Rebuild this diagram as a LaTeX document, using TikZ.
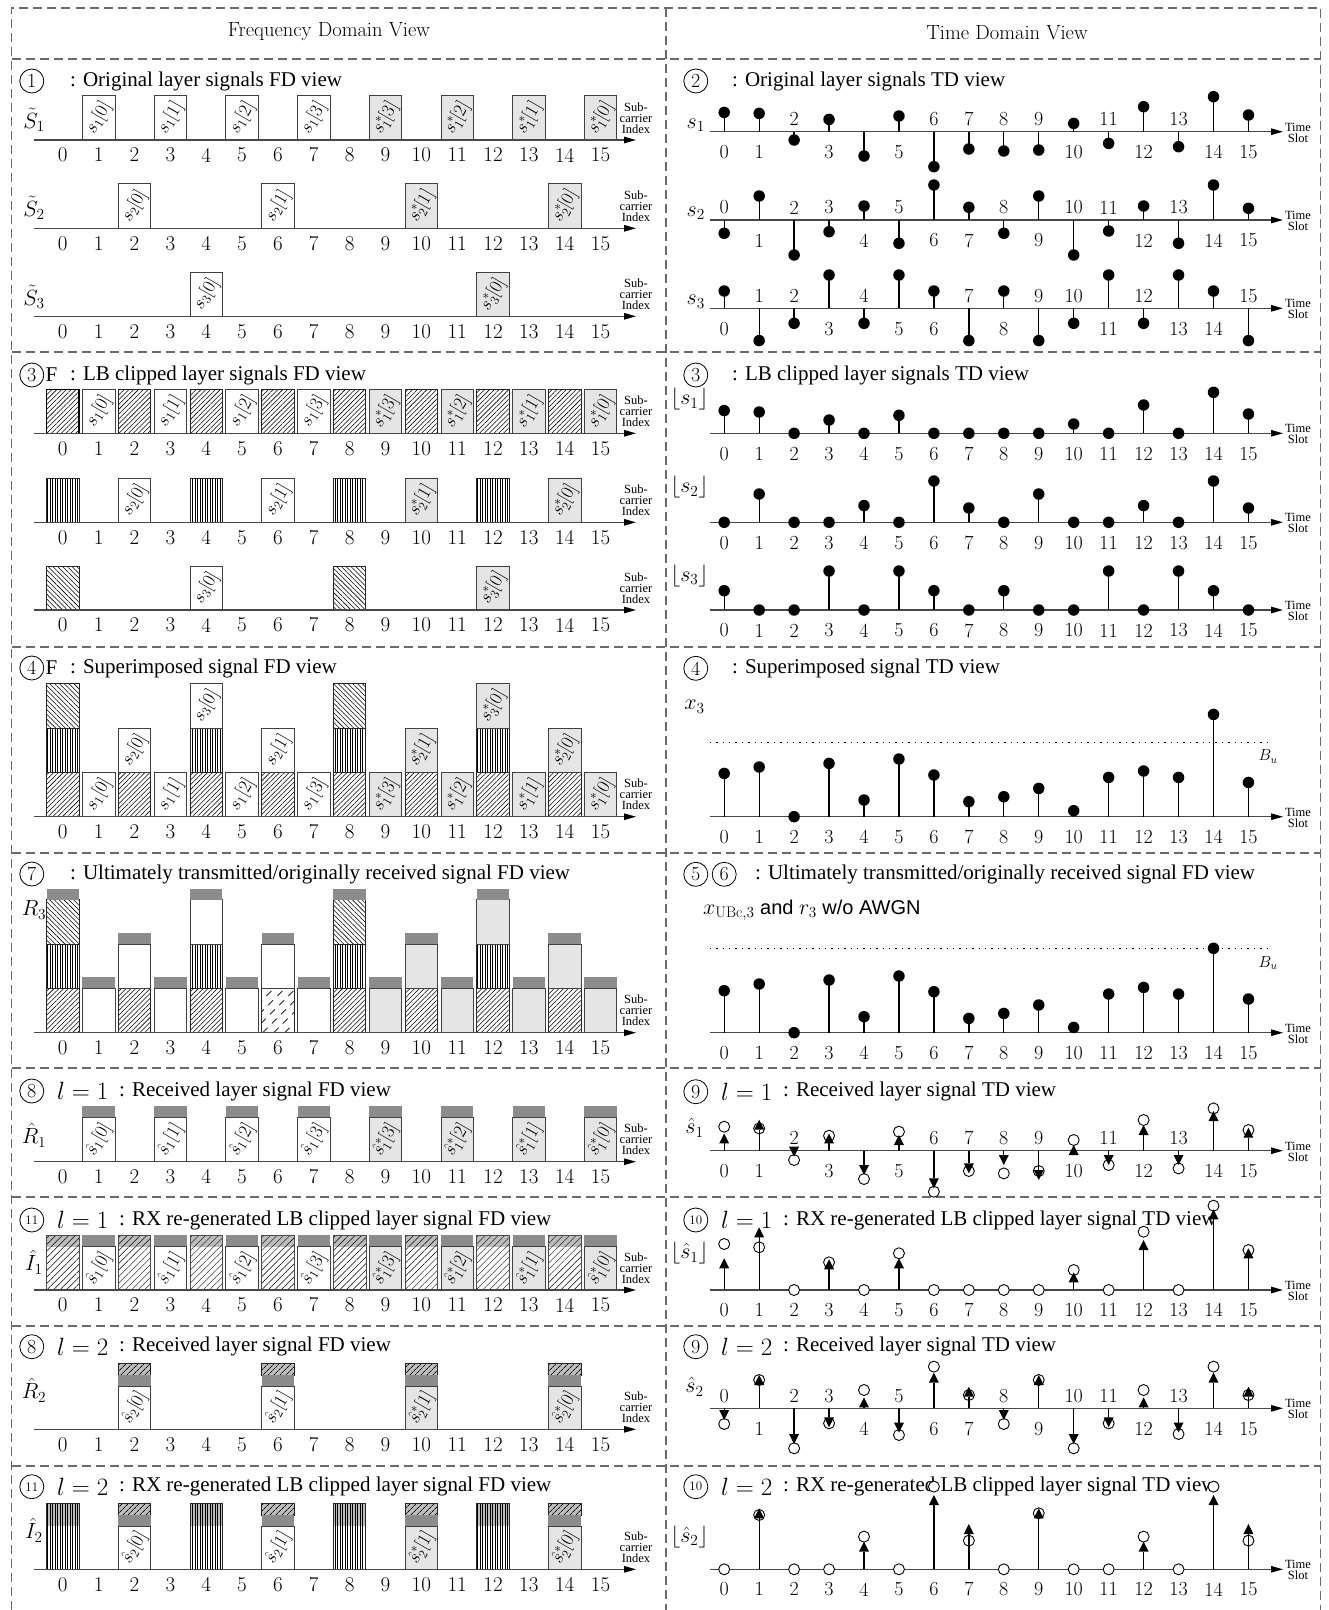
\RequirePackage{fix-cm}
\documentclass[tikz,border=0pt]{standalone}
\usepackage{fontspec}
\newfontfamily\tms{Liberation Serif}
\newfontfamily\hlv{Liberation Sans}
\usetikzlibrary{arrows.meta,patterns.meta}

\definecolor{lg}{gray}{0.9}
\definecolor{dg}{gray}{0.55}
\definecolor{hg}{gray}{0.74}
\definecolor{bord}{gray}{0.42}

\tikzset{
 frame/.style={draw=bord,line width=1.1pt,dash pattern=on 9pt off 5pt},
 axisl/.style={draw=black!72,line width=1.2pt,-{Triangle[length=12pt,width=6.5pt,color=black]}},
 ftick/.style={inner sep=0pt,font=\fontsize{21}{21}\selectfont},
 ttick/.style={inner sep=0pt,font=\fontsize{20}{20}\selectfont},
 sclab/.style={inner sep=0pt,align=center,font=\tms\fontsize{12.5}{11}\selectfont},
 hdr/.style={inner sep=0pt,font=\fontsize{20.5}{20.5}\selectfont},
 ttl/.style={anchor=west,inner sep=0pt,font=\tms\fontsize{21}{21}\selectfont},
 lmath/.style={anchor=west,inner sep=0pt,font=\fontsize{25}{25}\selectfont},
 sig/.style={inner sep=0pt,font=\fontsize{22}{22}\selectfont},
 cnum/.style={circle,draw,line width=0.8pt,minimum size=24pt,inner sep=0pt,font=\fontsize{20}{20}\selectfont},
 cnums/.style={cnum,font=\fontsize{13}{13}\selectfont},
 wbar/.style={draw=black!75,line width=0.8pt,fill=white},
 gbar/.style={draw=black!75,line width=0.8pt,fill=lg},
 capbar/.style={fill=dg},
 hne/.style={draw=black!85,line width=0.9pt,pattern={Lines[angle=45,distance=3.4pt,line width=0.55pt]},pattern color=black},
 hnw/.style={draw=black!85,line width=0.9pt,pattern={Lines[angle=-45,distance=3.4pt,line width=0.55pt]},pattern color=black},
 hv/.style={draw=black!85,line width=0.9pt,pattern={Lines[angle=90,distance=2.5pt,line width=0.55pt]},pattern color=black},
 hne2/.style={draw=black!70,line width=0.7pt,pattern={Lines[angle=45,distance=4.6pt,line width=0.45pt]},pattern color=black},
 hcap/.style={draw=black!85,line width=0.8pt,pattern={Lines[angle=45,distance=4pt,line width=0.7pt]},pattern color=black},
 blab/.style={rotate=60,inner sep=0pt,font=\fontsize{18.5}{18.5}\selectfont},
 dot/.style={circle,fill=black,inner sep=0pt,minimum size=11.5pt},
 odot/.style={circle,draw=black,fill=white,line width=0.9pt,inner sep=0pt,minimum size=11pt},
 stem/.style={line width=1.3pt},
 bu/.style={line width=1.4pt,dash pattern=on 1.4pt off 5pt},
}

% ---------- frequency-domain helpers ----------
\newcommand\barr[4]{%
 \path[#4] ({62.8+35.85*(#1)-16.25},#2) rectangle ({62.8+35.85*(#1)+16.25},#3);}
\newcommand\barl[6]{%
 \path[#4] ({62.8+35.85*(#1)-16.25},#2) rectangle ({62.8+35.85*(#1)+16.25},#3);
 \node[blab] (#6) at ({62.8+35.85*(#1)},{0.5*(#2)+0.5*(#3)}) {#5};}
\newcommand\barset[5]{%
 \foreach \i/\lab in {#1} {\barl{\i}{#3}{#4}{#2}{\lab}{#5\i}}}
\newcommand\fdaxis[2]{%
 \coordinate (#2a) at (34,#1); \coordinate (#2z) at (636,#1);
 \draw[axisl] (#2a) -- (#2z);
 \foreach \i in {0,...,15} \node[ftick] (#2t\i) at ({62.8+35.85*\i},{#1+15}) {\i};
 \node[sclab] (#2s) at (636,{#1-22}) {Sub-\\carrier\\Index};}

% ---------- time-domain helpers ----------
\newcommand\tdaxis[2]{%
 \coordinate (#2a) at (709.8,#1); \coordinate (#2z) at (1283,#1);
 \draw[axisl] (#2a) -- (#2z);
 \node[sclab] (#2s) at (1298,{#1+1}) {Time\\Slot};}
\newcommand\tdstems[4]{%
 \foreach \i/\v in {#2} {%
  \pgfmathsetmacro\xx{724.2+34.95*\i}%
  \pgfmathsetmacro\yy{#1-(\v)}%
  \coordinate (#3b\i) at (\xx,#1);%
  \node[dot] (#3d\i) at (\xx,\yy) {};%
  \draw[stem] (#3b\i) -- (#3d\i.center);%
  \ifnum\i=#4\relax\else
   \pgfmathsetmacro\ly{(\v)<0 ? #1-12.5 : #1+20.5}%
   \node[ttick] (#3t\i) at (\xx,\ly) {\i};%
  \fi}}
\newcommand\tdarrows[5]{%
 \foreach \i/\tp/\cp in {#2} {%
  \pgfmathsetmacro\xx{724.2+34.95*\i}%
  \pgfmathsetmacro\cy{#1-(\cp)}%
  \coordinate (#3b\i) at (\xx,#1);%
  \node[odot] (#3o\i) at (\xx,\cy) {};%
  \ifdim\tp pt=0pt\relax\else
   \pgfmathsetmacro\tipy{#1-(\tp)}%
   \pgfmathsetmacro\basey{(\tp)>0 ? \tipy+10 : \tipy-10}%
   \coordinate (#3p\i) at (\xx,\tipy);%
   \coordinate (#3q\i) at (\xx,\basey);%
   \draw[stem] (#3b\i) -- (#3q\i);%
   \fill (#3q\i) ++(-5,0) -- ++(10,0) -- (#3p\i) -- cycle;%
  \fi
  \ifnum\i=#4\relax\else
   \ifnum#5=1 \pgfmathsetmacro\ly{#1+20}\else\pgfmathsetmacro\ly{(\tp)<0 ? #1-12.5 : #1+20.5}\fi
   \node[ttick] (#3t\i) at (\xx,\ly) {\i};%
  \fi}}

\begin{document}
\begin{tikzpicture}[x=1pt,y=-1pt]
\useasboundingbox (0,0) rectangle (1329,1610);
\fill[white] (0,0) rectangle (1329,1610);

% ---------- frames ----------
\draw[frame] (11.5,1610) -- (11.5,8) -- (1320.5,8) -- (1320.5,1610);
\draw[frame] (666,8) -- (666,1610);
\foreach \yy in {59,352,647,853,1068,1197,1326,1466} \draw[frame] (11.5,\yy) -- (1320.5,\yy);

\node[hdr] (hF) at (329,32) {Frequency Domain View};
\node[hdr] (hT) at (1007,33) {Time Domain View};

% ---------- titles ----------
\node[cnum] (c1) at (31.8,81) {1};
\node[ttl] (t1) at (70,81) {: Original layer signals FD view};
\node[cnum] (c2) at (695.8,81) {2};
\node[ttl] (t2) at (732,81) {: Original layer signals TD view};
\node[cnum] (c3a) at (31.8,375) {3};
\node[ttl] (F3) at (45.5,375) {F};
\node[ttl] (t3a) at (70,375) {: LB clipped layer signals FD view};
\node[cnum] (c3b) at (695.8,375) {3};
\node[ttl] (t3b) at (732,375) {: LB clipped layer signals TD view};
\node[cnum] (c4a) at (31.8,668) {4};
\node[ttl] (F4) at (45.5,668) {F};
\node[ttl] (t4a) at (70,668) {: Superimposed signal FD view};
\node[cnum] (c4b) at (695.8,668.3) {4};
\node[ttl] (t4b) at (732,668.3) {: Superimposed signal TD view};
\node[cnum] (c7) at (31.8,874) {7};
\node[ttl] (t7) at (70,874) {: Ultimately transmitted/originally received signal FD view};
\node[cnum] (c5) at (695.8,874.3) {5};
\node[cnum] (c6) at (724.2,874.3) {6};
\node[ttl] (t56) at (755,874.3) {: Ultimately transmitted/originally received signal FD view};
\node[cnum] (c8a) at (31.8,1091) {8};
\node[lmath] (l8a) at (57,1091) {$l=1$};
\node[ttl] (t8a) at (119,1091) {: Received layer signal FD view};
\node[cnum] (c9a) at (695.8,1091.7) {9};
\node[lmath] (l9a) at (721,1091.7) {$l=1$};
\node[ttl] (t9a) at (783,1091.7) {: Received layer signal TD view};
\node[cnums] (c11a) at (31.8,1220) {11};
\node[lmath] (l11a) at (57,1220) {$l=1$};
\node[ttl] (t11a) at (119,1220) {: RX re-generated LB clipped layer signal FD view};
\node[cnums] (c10a) at (695.8,1220) {10};
\node[lmath] (l10a) at (721,1220) {$l=1$};
\node[ttl] (t10a) at (783,1220) {: RX re-generated LB clipped layer signal TD view};
\node[cnum] (c8b) at (31.8,1346.7) {8};
\node[lmath] (l8b) at (57,1346.7) {$l=2$};
\node[ttl] (t8b) at (119,1346.7) {: Received layer signal FD view};
\node[cnum] (c9b) at (695.8,1346.7) {9};
\node[lmath] (l9b) at (721,1346.7) {$l=2$};
\node[ttl] (t9b) at (783,1346.7) {: Received layer signal TD view};
\node[cnums] (c11b) at (31.8,1486.7) {11};
\node[lmath] (l11b) at (57,1486.7) {$l=2$};
\node[ttl] (t11b) at (119,1486.7) {: RX re-generated LB clipped layer signal FD view};
\node[cnums] (c10b) at (695.8,1486.7) {10};
\node[lmath] (l10b) at (721,1486.7) {$l=2$};
\node[ttl] (t10b) at (783,1486.7) {: RX re-generated LB clipped layer signal TD view};

% ================= LEFT: FREQUENCY DOMAIN =================
% --- row 1 ---
\barset{1/{$s_1[0]$},3/{$s_1[1]$},5/{$s_1[2]$},7/{$s_1[3]$}}{wbar}{140}{95.7}{A}
\barset{9/{$s_1^*[3]$},11/{$s_1^*[2]$},13/{$s_1^*[1]$},15/{$s_1^*[0]$}}{gbar}{140}{95.7}{A}
\barset{2/{$s_2[0]$},6/{$s_2[1]$}}{wbar}{228.3}{183.7}{B}
\barset{10/{$s_2^*[1]$},14/{$s_2^*[0]$}}{gbar}{228.3}{183.7}{B}
\barl{4}{316.3}{272.3}{wbar}{$s_3[0]$}{C4}
\barl{12}{316.3}{272.3}{gbar}{$s_3^*[0]$}{C12}
\fdaxis{140}{ax1}\fdaxis{228.3}{ax2}\fdaxis{316.3}{ax3}
\node[sig] (S1) at (34,120) {$\tilde{S}_1$};
\node[sig] (S2) at (34,208) {$\tilde{S}_2$};
\node[sig] (S3) at (34,297) {$\tilde{S}_3$};

% --- row 2 ---
\foreach \i in {2,4,...,14} \barr{\i}{433.3}{389.3}{hne};
\barr{0}{433.3}{389.3}{hne,line width=1.6pt,draw=black};
\barset{1/{$s_1[0]$},3/{$s_1[1]$},5/{$s_1[2]$},7/{$s_1[3]$}}{wbar}{433.3}{389.3}{D}
\barset{9/{$s_1^*[3]$},11/{$s_1^*[2]$},13/{$s_1^*[1]$},15/{$s_1^*[0]$}}{gbar}{433.3}{389.3}{D}
\foreach \i in {0,4,8,12} \barr{\i}{522.3}{478}{hv};
\barset{2/{$s_2[0]$},6/{$s_2[1]$}}{wbar}{522.3}{478}{E}
\barset{10/{$s_2^*[1]$},14/{$s_2^*[0]$}}{gbar}{522.3}{478}{E}
\foreach \i in {0,8} \barr{\i}{610}{566}{hnw};
\barl{4}{610}{566}{wbar}{$s_3[0]$}{G4}
\barl{12}{610}{566}{gbar}{$s_3^*[0]$}{G12}
\fdaxis{433.3}{ax4}\fdaxis{522.3}{ax5}\fdaxis{610}{ax6}

% --- row 3: superimposed ---
\foreach \i in {0,2,...,14} \barr{\i}{816.7}{772.4}{hne};
\foreach \i in {0,4,8,12} \barr{\i}{772.4}{728.1}{hv};
\foreach \i in {0,8} \barr{\i}{728.1}{683.8}{hnw};
\barl{4}{728.1}{683.8}{wbar}{$s_3[0]$}{H4}
\barl{12}{728.1}{683.8}{gbar}{$s_3^*[0]$}{H12}
\barset{2/{$s_2[0]$},6/{$s_2[1]$}}{wbar}{772.4}{728.1}{Hb}
\barset{10/{$s_2^*[1]$},14/{$s_2^*[0]$}}{gbar}{772.4}{728.1}{Hb}
\barset{1/{$s_1[0]$},3/{$s_1[1]$},5/{$s_1[2]$},7/{$s_1[3]$}}{wbar}{816.7}{772.4}{Ha}
\barset{9/{$s_1^*[3]$},11/{$s_1^*[2]$},13/{$s_1^*[1]$},15/{$s_1^*[0]$}}{gbar}{816.7}{772.4}{Ha}
\fdaxis{816.7}{ax7}

% --- row 4: R3 ---
\foreach \i in {0,2,4,8,10,12,14} \barr{\i}{1032.7}{988.4}{hne};
\begin{scope}
 \clip (261.65,1032.7) rectangle (294.15,988.4);
 \foreach \k in {0,...,6} \draw[line width=0.7pt,dash pattern=on 7pt off 6pt] ({229.65+\k*11},1032.7) -- ++(48,-48);
\end{scope}
\barr{6}{1032.7}{988.4}{draw=black!85,line width=0.9pt};
\foreach \i in {0,4,8,12} \barr{\i}{988.4}{944.1}{hv};
\foreach \i in {0,8} \barr{\i}{944.1}{899.8}{hnw};
\barr{4}{944.1}{899.8}{wbar};
\barr{12}{944.1}{899.8}{gbar};
\foreach \i in {2,6} \barr{\i}{988.4}{944.1}{wbar};
\foreach \i in {10,14} \barr{\i}{988.4}{944.1}{gbar};
\foreach \i in {1,3,5,7} \barr{\i}{1032.7}{988.4}{wbar};
\foreach \i in {9,11,13,15} \barr{\i}{1032.7}{988.4}{gbar};
\foreach \i in {0,4,8,12} \barr{\i}{899.8}{888.8}{capbar};
\foreach \i in {2,6,10,14} \barr{\i}{944.1}{933.1}{capbar};
\foreach \i in {1,3,...,15} \barr{\i}{988.4}{977.4}{capbar};
\fdaxis{1032.7}{ax8}
\node[sig] (R3) at (34,910) {$R_3$};

% --- row 5: R1 hat ---
\foreach \i in {1,3,...,15} \barr{\i}{1117.3}{1106}{capbar};
\barset{1/{$\hat{s}_1[0]$},3/{$\hat{s}_1[1]$},5/{$\hat{s}_1[2]$},7/{$\hat{s}_1[3]$}}{wbar}{1161.7}{1117.3}{J}
\barset{9/{$\hat{s}_1^*[3]$},11/{$\hat{s}_1^*[2]$},13/{$\hat{s}_1^*[1]$},15/{$\hat{s}_1^*[0]$}}{gbar}{1161.7}{1117.3}{J}
\fdaxis{1161.7}{ax9}
\node[sig] (R1h) at (34,1135) {$\hat{R}_1$};

% --- row 6: I1 hat ---
\foreach \i in {0,2,...,14} {\barr{\i}{1246.7}{1235}{fill=hg}\barr{\i}{1290}{1235}{hne2}}
\foreach \i in {1,3,...,15} \barr{\i}{1246.7}{1235}{capbar};
\barset{1/{$\hat{s}_1[0]$},3/{$\hat{s}_1[1]$},5/{$\hat{s}_1[2]$},7/{$\hat{s}_1[3]$}}{wbar}{1290}{1246.7}{K}
\barset{9/{$\hat{s}_1^*[3]$},11/{$\hat{s}_1^*[2]$},13/{$\hat{s}_1^*[1]$},15/{$\hat{s}_1^*[0]$}}{gbar}{1290}{1246.7}{K}
\fdaxis{1290}{ax10}
\node[sig] (I1h) at (34,1262) {$\hat{I}_1$};

% --- row 7: R2 hat ---
\foreach \i in {2,6,10,14} {\barr{\i}{1375}{1363.3}{fill=hg}\barr{\i}{1375}{1363.3}{hcap}\barr{\i}{1386}{1375}{capbar}}
\barset{2/{$\hat{s}_2[0]$},6/{$\hat{s}_2[1]$}}{wbar}{1429.3}{1386}{M}
\barset{10/{$\hat{s}_2^*[1]$},14/{$\hat{s}_2^*[0]$}}{gbar}{1429.3}{1386}{M}
\fdaxis{1429.3}{ax11}
\node[sig] (R2h) at (34,1390) {$\hat{R}_2$};

% --- row 8: I2 hat ---
\foreach \i in {0,4,8,12} {\barr{\i}{1526}{1503.3}{fill=hg}\barr{\i}{1569.3}{1503.3}{hv}}
\foreach \i in {2,6,10,14} {\barr{\i}{1515}{1503.3}{fill=hg}\barr{\i}{1515}{1503.3}{hcap}\barr{\i}{1526}{1515}{capbar}}
\barset{2/{$\hat{s}_2[0]$},6/{$\hat{s}_2[1]$}}{wbar}{1569.3}{1526}{N}
\barset{10/{$\hat{s}_2^*[1]$},14/{$\hat{s}_2^*[0]$}}{gbar}{1569.3}{1526}{N}
\fdaxis{1569.3}{ax12}
\node[sig] (I2h) at (34,1530) {$\hat{I}_2$};

% ================= RIGHT: TIME DOMAIN =================
\tdaxis{131.7}{tx1}
\tdstems{131.7}{0/19.3,1/18.3,2/-8.3,3/12.3,4/-24.3,5/15.7,6/-35,7/-17.3,8/-19.3,9/-18.3,10/8.3,11/-11.7,12/25,13/-15,14/35,15/16.7}{P}{4}
\tdaxis{220}{tx2}
\tdstems{220}{0/-13.3,1/24,2/-35,3/-11.7,4/14,5/-23.3,6/35,7/12.7,8/-13.3,9/24,10/-35,11/-11,12/14,13/-23.3,14/35,15/11.7}{Q}{99}
\tdaxis{308.3}{tx3}
\tdstems{308.3}{0/17.3,1/-32.3,2/-15,3/33.3,4/-15,5/33.3,6/17.3,7/-32.3,8/17.3,9/-32.3,10/-15,11/33.3,12/-15,13/33.3,14/17.3,15/-32.3}{U}{99}
\node[sig] (s1l) at (695.8,125) {$s_1$};
\node[sig] (s2l) at (695.8,213) {$s_2$};
\node[sig] (s3l) at (695.8,301.7) {$s_3$};

\tdaxis{433.3}{tx4}
\tdstems{433.3}{0/22.7,1/21.3,2/0,3/13.3,4/0,5/18,6/0,7/0,8/0,9/0,10/9.3,11/0,12/28.3,13/0,14/41,15/19.3}{V}{99}
\tdaxis{522.3}{tx5}
\tdstems{522.3}{0/0,1/28.3,2/0,3/0,4/16.7,5/0,6/41.3,7/14.3,8/0,9/28.3,10/0,11/0,12/16.7,13/0,14/41.3,15/14.3}{W}{99}
\tdaxis{610}{tx6}
\tdstems{610}{0/19.3,1/0,2/0,3/39,4/0,5/39,6/19.3,7/0,8/19.3,9/0,10/0,11/39,12/0,13/39,14/19.3,15/0}{X}{99}
\node[sig] (c1l) at (689.4,399.3) {$\lfloor s_1\rfloor$};
\node[sig] (c2l) at (689.4,487.3) {$\lfloor s_2\rfloor$};
\node[sig] (c3l) at (689.4,575.7) {$\lfloor s_3\rfloor$};

\coordinate (bu1a) at (709.8,742.7); \coordinate (bu1b) at (1268,742.7);
\draw[bu] (bu1a) -- (bu1b);
\node[inner sep=0pt,font=\fontsize{16}{16}\selectfont] (bu1) at (1268,756.7) {$B_u$};
\tdaxis{816.7}{tx7}
\tdstems{816.7}{0/43.3,1/49.7,2/0,3/53.3,4/16.7,5/57.7,6/41.7,7/15,8/20,9/28.3,10/6,11/39.3,12/45.7,13/39.3,14/102.3,15/34.3}{Y}{99}
\node[sig] (x3l) at (694.5,706.7) {$x_3$};

\coordinate (bu2a) at (709.8,948.3); \coordinate (bu2b) at (1268,948.3);
\draw[bu] (bu2a) -- (bu2b);
\node[inner sep=0pt,font=\fontsize{16}{16}\selectfont] (bu2) at (1268,963.3) {$B_u$};
\tdaxis{1032.7}{tx8}
\tdstems{1032.7}{0/42,1/48.7,2/0,3/52.7,4/16,5/56.7,6/41,7/14.3,8/19.3,9/27.7,10/5.3,11/38.7,12/45.3,13/38.7,14/84.4,15/33.7}{Z}{99}
\node[anchor=west,inner sep=0pt,font=\hlv\fontsize{20}{20}\selectfont] (xubc) at (703,910) {{\rmfamily\fontsize{22}{22}\selectfont$x_{\mathrm{UBc},3}$} and {\rmfamily\fontsize{22}{22}\selectfont$r_3$} w/o AWGN};

\tdaxis{1150.7}{tx9}
\tdarrows{1150.7}{0/17.3/24,1/31/22.3,2/-6/-9.3,3/17.3/15,4/-24.3/-28.3,5/15.7/19,6/-37.7/-41,7/-22.7/-20.3,8/-14.3/-22.7,9/-29.3/-20.3,10/5.7/10.7,11/-14.3/-14.3,12/25.7/30.7,13/-14.3/-17.7,14/39.7/42.3,15/23/20.7}{AA}{4}{0}
\node[sig] (sh1) at (694.5,1127.7) {$\hat{s}_1$};

\tdaxis{1290}{tx10}
\tdarrows{1290}{0/31.7/46,1/62.7/42.7,2/0/0,3/30.7/27.7,4/0/0,5/31.7/36.7,6/0/0,7/0/0,8/0/0,9/0/0,10/17.7/20,11/0/0,12/50/58.3,13/0/0,14/80.7/84.3,15/41.7/40}{AB}{99}{1}
\node[sig] (csh1) at (689.4,1253.3) {$\lfloor\hat{s}_1\rfloor$};

\tdaxis{1408.3}{tx11}
\tdarrows{1408.3}{0/-11.7/-15.7,1/33.3/28.3,2/-35.7/-40,3/-19/-15,4/11/18.3,5/-24.3/-26.7,6/35.7/41.7,7/21.7/13.3,8/-11.7/-15.7,9/33.3/28.3,10/-35.7/-40,11/-19/-15,12/11/18.3,13/-24.3/-25.7,14/35.7/41.7,15/21.7/13.3}{AC}{99}{0}
\node[sig] (sh2) at (694.5,1386.7) {$\hat{s}_2$};

\tdaxis{1569.3}{tx12}
\tdarrows{1569.3}{0/0/0,1/61/54.3,2/0/0,3/0/0,4/27.7/32.7,5/0/0,6/74.3/82.7,7/45.3/28.7,8/0/0,9/61/56,10/0/0,11/0/0,12/27.7/32.7,13/0/0,14/74.3/82.7,15/45.3/28.7}{AD}{99}{1}
\node[sig] (csh2) at (689.4,1536.7) {$\lfloor\hat{s}_2\rfloor$};

\end{tikzpicture}
\end{document}
